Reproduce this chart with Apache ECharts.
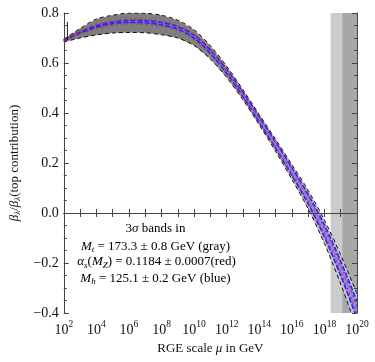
<!DOCTYPE html>
<html>
<head>
<meta charset="utf-8">
<script src="https://cdn.jsdelivr.net/npm/echarts@6/dist/echarts.min.js"></script>
<style>html,body{margin:0;padding:0;background:#fff;}#c{width:375px;height:362px;}</style>
</head>
<body>
<div id="c"></div>
<script>
// exponents of the RGE scale (mu = 10^e GeV)
const exps = [2,3,4,5,6,7,8,9,10,11,12,13,14,15,16,17,18,19,20];
const yTicks = [-0.4,-0.2,0.0,0.2,0.4,0.6,0.8];
// gray band (M_t), bounded by black dashed lines
const grayUpper = [0.695,0.738,0.776,0.791,0.800,0.799,0.791,0.771,0.733,0.669,0.587,0.493,0.394,0.295,0.194,0.091,-0.028,-0.168,-0.323];
const grayLower = [0.684,0.700,0.712,0.720,0.722,0.721,0.713,0.700,0.670,0.616,0.542,0.453,0.352,0.247,0.135,0.017,-0.122,-0.284,-0.463];
// red dotted (alpha_s)
const redUpper = [0.692,0.727,0.754,0.769,0.776,0.775,0.767,0.750,0.715,0.655,0.576,0.484,0.384,0.283,0.177,0.068,-0.059,-0.208,-0.373];
const redLower = [0.688,0.717,0.738,0.751,0.756,0.755,0.747,0.730,0.695,0.635,0.556,0.464,0.364,0.261,0.155,0.044,-0.085,-0.236,-0.403];
// blue band (M_h)
const blueUpper = [0.691,0.724,0.749,0.763,0.770,0.769,0.762,0.745,0.711,0.652,0.574,0.483,0.385,0.285,0.182,0.075,-0.048,-0.193,-0.353];
const blueLower = [0.689,0.720,0.743,0.757,0.762,0.761,0.752,0.735,0.699,0.638,0.558,0.465,0.363,0.259,0.150,0.037,-0.096,-0.251,-0.423];
// shaded scale regions (exponents)
const regionLight = [18.38, 19.09];
const regionDark = [19.09, 20];
// short vertical marker near the start
const startMarkExp = 2.22;
const startMarkY = [0.692, 0.765];

const mu = exps.map(e => Math.pow(10, e));
const pairs = arr => arr.map((v, i) => [mu[i], v]);

const FONT = "'Liberation Serif','DejaVu Serif',serif";
const AX = '#444';

const chart = echarts.init(document.getElementById('c'), null, {renderer: 'canvas'});

const xAxisBase = {
  type: 'log', logBase: 10, min: 1e2, max: 1e20, interval: 1,
  axisLine: {show: true, lineStyle: {color: AX, width: 1}},
  axisTick: {show: true, inside: true, length: 4, lineStyle: {color: AX}},
  splitLine: {show: false}, minorTick: {show: false}, z: 10
};
const yAxisBase = {
  type: 'value', min: -0.4, max: 0.8, interval: 0.2,
  axisLine: {show: true, onZero: false, lineStyle: {color: AX, width: 1}},
  axisTick: {show: true, inside: true, length: 5, lineStyle: {color: AX}},
  minorTick: {show: true, splitNumber: 4, length: 3, lineStyle: {color: AX}},
  splitLine: {show: false}, z: 10
};

const lineS = (name, data, color, type, width, z) => ({
  name, type: 'line', data, symbol: 'none', smooth: 0.3, z, silent: true,
  lineStyle: {color, type, width}
});

const bandS = (name, upper, lower, fill, z) => ({
  name, type: 'custom', coordinateSystem: 'cartesian2d', clip: true, silent: true, z,
  data: [[mu[0], upper[0]]],
  renderItem: (params, api) => {
    const pts = [];
    for (let i = 0; i < upper.length; i++) pts.push(api.coord([mu[i], upper[i]]));
    for (let i = lower.length - 1; i >= 0; i--) pts.push(api.coord([mu[i], lower[i]]));
    return {type: 'polygon', shape: {points: pts}, style: {fill: fill, stroke: null}};
  }
});

chart.setOption({
  animation: false,
  grid: {left: 54, right: 18, top: 13, bottom: 49},
  xAxis: [
    Object.assign({}, xAxisBase, {
      position: 'bottom',
      axisLabel: {
        show: true, margin: 6, showMinLabel: true, showMaxLabel: true,
        formatter: v => { const e = Math.round(Math.log10(v)); return e % 2 === 0 ? '{b|10}{s|' + e + '}' : ''; },
        rich: {
          b: {fontFamily: FONT, fontSize: 14, color: '#111', lineHeight: 18, verticalAlign: 'bottom'},
          s: {fontFamily: FONT, fontSize: 9.5, color: '#111', lineHeight: 10, verticalAlign: 'top'}
        }
      },
      name: '{n|RGE scale }{i|μ}{n| in GeV}', nameLocation: 'middle', nameGap: 28,
      nameTextStyle: {
        rich: {
          n: {fontFamily: FONT, fontSize: 13, color: '#111'},
          i: {fontFamily: FONT, fontSize: 13, color: '#111', fontStyle: 'italic'}
        }
      }
    }),
    Object.assign({}, xAxisBase, {position: 'top', axisLabel: {show: false}})
  ],
  yAxis: [
    Object.assign({}, yAxisBase, {
      position: 'left',
      axisLabel: {show: true, margin: 5, fontFamily: FONT, fontSize: 14, color: '#111',
        formatter: v => (v < -1e-9 ? '−' : '') + Math.abs(v).toFixed(1)},
      name: '{i|β}{sb|λ}{n|/}{i|β}{sb|λ}{n|(top contribution)}', nameLocation: 'middle', nameGap: 34, nameRotate: 90,
      nameTextStyle: {
        rich: {
          n: {fontFamily: FONT, fontSize: 13, color: '#111', lineHeight: 16},
          i: {fontFamily: FONT, fontSize: 13, color: '#111', fontStyle: 'italic', lineHeight: 16},
          sb: {fontFamily: FONT, fontSize: 9, color: '#111', fontStyle: 'italic', lineHeight: 9, verticalAlign: 'bottom'}
        }
      }
    }),
    Object.assign({}, yAxisBase, {position: 'right', axisLabel: {show: false}})
  ],
  graphic: [
    {type: 'text', x: 155.5, y: 229, z: 20, style: {text: '{n|3}{i|σ}{n| bands in}', align: 'center', verticalAlign: 'middle', rich: richT()}},
    {type: 'text', x: 155.5, y: 246.5, z: 20, style: {text: '{i|M}{sb|t}{n| = 173.3 ± 0.8 GeV (gray)}', align: 'center', verticalAlign: 'middle', rich: richT()}},
    {type: 'text', x: 156.5, y: 262, z: 20, style: {text: '{i|α}{sb|s}{n|(}{i|M}{sb|Z}{n|) = 0.1184 ± 0.0007(red)}', align: 'center', verticalAlign: 'middle', rich: richT()}},
    {type: 'text', x: 155.5, y: 278.5, z: 20, style: {text: '{i|M}{sb|h}{n| = 125.1 ± 0.2 GeV (blue)}', align: 'center', verticalAlign: 'middle', rich: richT()}}
  ],
  series: [
    {
      name: 'regions', type: 'line', data: pairs(redUpper), symbol: 'none', z: 1, silent: true,
      lineStyle: {opacity: 0, width: 0},
      markArea: {
        silent: true,
        data: [
          [{xAxis: Math.pow(10, regionLight[0]), itemStyle: {color: '#cbcbcb'}}, {xAxis: Math.pow(10, regionLight[1])}],
          [{xAxis: Math.pow(10, regionDark[0]), itemStyle: {color: '#a7a7a7'}}, {xAxis: Math.pow(10, regionDark[1])}]
        ]
      }
    },
    {
      name: 'zero', type: 'line', data: pairs(redLower), symbol: 'none', z: 2, silent: true,
      lineStyle: {opacity: 0, width: 0},
      markLine: {silent: true, symbol: ['none', 'none'], label: {show: false},
        lineStyle: {color: '#7a7a7a', type: 'solid', width: 1},
        data: [{yAxis: 0}]}
    },
    bandS('grayBand', grayUpper, grayLower, new echarts.graphic.LinearGradient(0, 0, 1, 0, [
        {offset: 0, color: '#7b7b7b'}, {offset: 0.45, color: '#808080'}, {offset: 0.68, color: '#a9a9b4'}, {offset: 1, color: '#c6c6d6'}]), 3),
    bandS('blueBand', blueUpper, blueLower, 'rgba(100,100,255,0.6)', 5),
    lineS('grayU', pairs(grayUpper), '#111', [4, 3], 1, 4),
    lineS('grayL', pairs(grayLower), '#111', [4, 3], 1, 4),
    lineS('blueU', pairs(blueUpper), '#2626ff', [5, 2], 1.6, 6),
    lineS('blueL', pairs(blueLower), '#2626ff', [5, 2], 1.6, 6),
    lineS('redU', pairs(redUpper), '#e8202a', [1.5, 3.5], 1.6, 7),
    lineS('redL', pairs(redLower), '#e8202a', [1.5, 3.5], 1.6, 7),
    {name: 'startMark', type: 'line', data: startMarkY.map(v => [Math.pow(10, startMarkExp), v]), symbol: 'none', z: 8, silent: true,
      lineStyle: {color: '#222', width: 1}}
  ]
});

function richT() {
  return {
    n: {fontFamily: FONT, fontSize: 13, color: '#000', lineHeight: 16},
    i: {fontFamily: FONT, fontSize: 13, color: '#000', fontStyle: 'italic', lineHeight: 16},
    sb: {fontFamily: FONT, fontSize: 9, color: '#000', fontStyle: 'italic', lineHeight: 9, verticalAlign: 'bottom'}
  };
}
</script>
</body>
</html>
